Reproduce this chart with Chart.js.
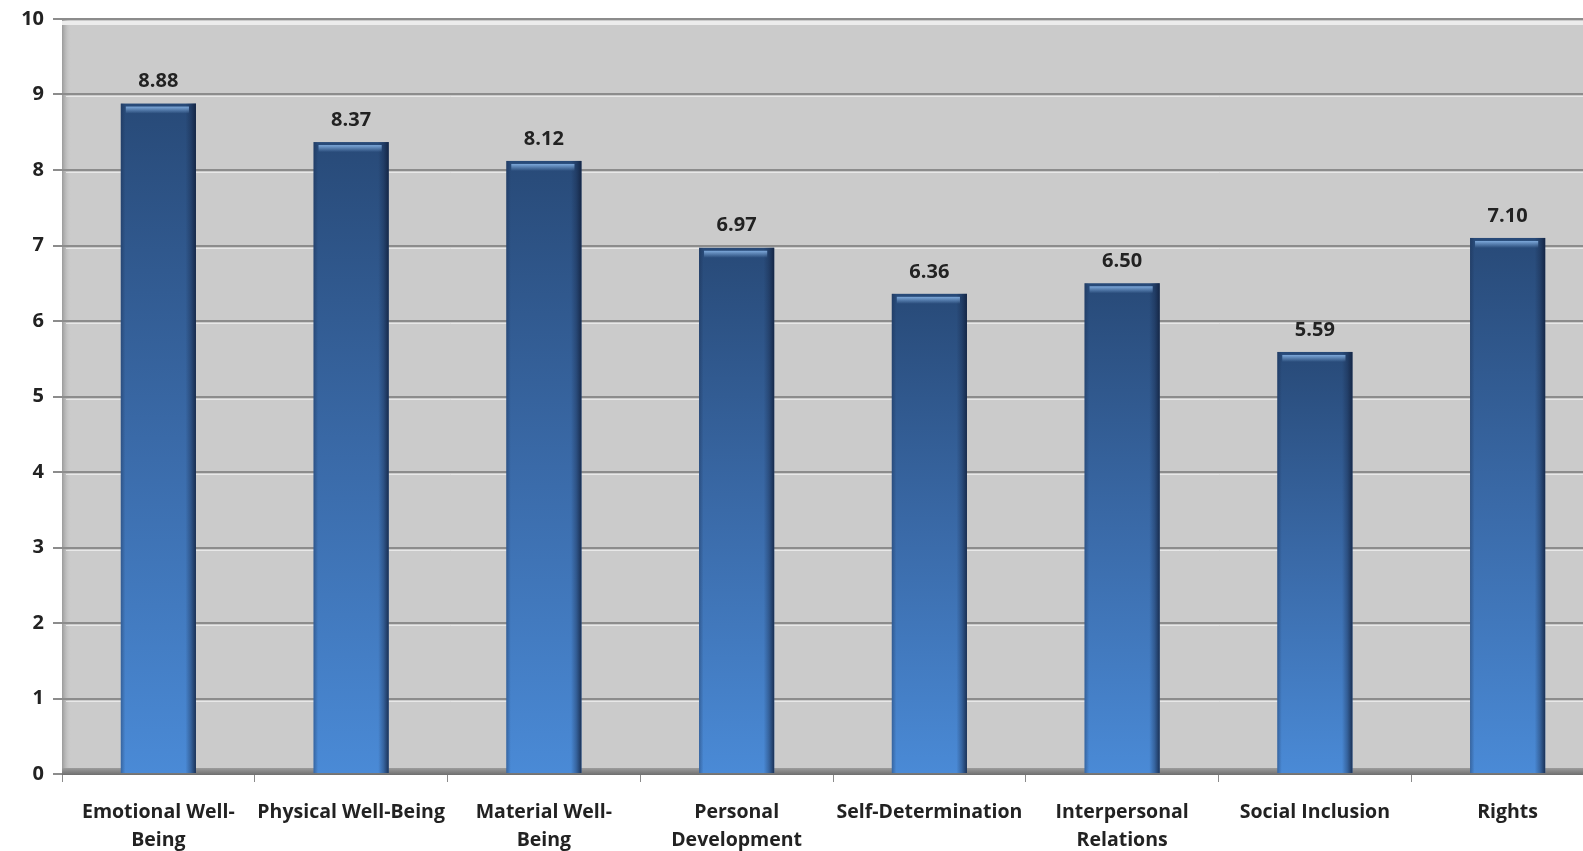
<!DOCTYPE html>
<html>
<head>
<meta charset="utf-8">
<script src="https://cdn.jsdelivr.net/npm/chart.js@4.4.1/dist/chart.umd.min.js"></script>
<style>
  html, body { margin: 0; padding: 0; background: #fff; overflow: hidden; }
  #wrap { width: 1604px; height: 851px; }
</style>
</head>
<body>
<div id="wrap"><canvas id="qolChart" width="1604" height="851"></canvas></div>
<script>
// domains of the quality of life scale
const domains = [
    ['Emotional Well-', 'Being'],
    'Physical Well-Being',
    ['Material Well-', 'Being'],
    ['Personal', 'Development'],
    'Self-Determination',
    ['Interpersonal', 'Relations'],
    'Social Inclusion',
    'Rights'
];
const scores = [8.88, 8.37, 8.12, 6.97, 6.36, 6.50, 5.59, 7.10];
const yTicks = [0, 1, 2, 3, 4, 5, 6, 7, 8, 9, 10];

const FONT = '"Open Sans", Lato, sans-serif';
const TEXT = '#222';

// gray plot background with a little 3d wall on the left and a floor
const plotBackground = {
    id: 'plotBackground',
    beforeDraw(chart) {
        const { ctx, chartArea: a } = chart;
        ctx.save();
        ctx.fillStyle = '#cbcbcb';
        ctx.fillRect(a.left, a.top, a.right - a.left, a.bottom - a.top);

        // left wall
        const wall = ctx.createLinearGradient(a.left, 0, a.left + 9, 0);
        wall.addColorStop(0, '#9a9a9a');
        wall.addColorStop(1, 'rgba(203,203,203,0)');
        ctx.fillStyle = wall;
        ctx.fillRect(a.left, a.top, 9, a.bottom - a.top);

        // top rim
        ctx.fillStyle = '#ececec';
        ctx.fillRect(a.left, a.top + 2, a.right - a.left, 4);
        ctx.restore();
    },
    beforeDatasetsDraw(chart) {
        const { ctx, chartArea: a, scales } = chart;
        ctx.save();
        // light line under every grid line
        ctx.strokeStyle = 'rgba(235,235,235,0.9)';
        ctx.lineWidth = 1;
        yTicks.forEach(v => {
            if (v === 0 || v === 10) return;
            const y = Math.round(scales.y.getPixelForValue(v)) + 2.5;
            ctx.beginPath();
            ctx.moveTo(a.left + 4, y);
            ctx.lineTo(a.right, y);
            ctx.stroke();
        });
        // floor
        const fl = ctx.createLinearGradient(0, a.bottom - 6, 0, a.bottom + 1);
        fl.addColorStop(0, '#9c9c9c');
        fl.addColorStop(1, '#6e6e6e');
        ctx.fillStyle = fl;
        ctx.fillRect(a.left, a.bottom - 6, a.right - a.left, 7);
        ctx.restore();
    }
};

// shaded bars, dark on top and lighter at the bottom, with edges
const barShading = {
    id: 'barShading',
    afterDatasetsDraw(chart) {
        const { ctx } = chart;
        const meta = chart.getDatasetMeta(0);
        ctx.save();
        meta.data.forEach((bar, i) => {
            const x0 = bar.x - bar.width / 2;
            const w = bar.width;
            const top = bar.y;
            const h = bar.base - bar.y;

            const g = ctx.createLinearGradient(0, top, 0, bar.base);
            g.addColorStop(0, '#284a78');
            g.addColorStop(0.5, '#3a6aa8');
            g.addColorStop(1, '#4a8ad6');
            ctx.fillStyle = g;
            ctx.fillRect(x0, top, w, h);

            // side shading
            const s = ctx.createLinearGradient(x0, 0, x0 + w, 0);
            s.addColorStop(0, 'rgba(20,35,65,0.35)');
            s.addColorStop(0.06, 'rgba(20,35,65,0)');
            s.addColorStop(0.86, 'rgba(20,35,65,0)');
            s.addColorStop(0.93, 'rgba(20,35,65,0.35)');
            s.addColorStop(1, 'rgba(15,28,55,0.8)');
            ctx.fillStyle = s;
            ctx.fillRect(x0, top, w, h);

            // highlight band near the top
            const hl = ctx.createLinearGradient(0, top + 3, 0, top + 10);
            hl.addColorStop(0, 'rgba(140,185,235,0.85)');
            hl.addColorStop(1, 'rgba(140,185,235,0)');
            ctx.fillStyle = hl;
            ctx.fillRect(x0 + 5, top + 3, w - 12, 8);

            // value label
            ctx.fillStyle = TEXT;
            ctx.font = 'bold 20px ' + FONT;
            ctx.textAlign = 'center';
            ctx.textBaseline = 'middle';
            ctx.fillText(scores[i].toFixed(2), bar.x, top - 22);
        });
        ctx.restore();
    }
};

const ctx = document.getElementById('qolChart').getContext('2d');
new Chart(ctx, {
    type: 'bar',
    data: {
        labels: domains,
        datasets: [{
            label: 'Score',
            data: scores,
            backgroundColor: 'rgba(0,0,0,0)',
            borderWidth: 0,
            barPercentage: 0.39,
            categoryPercentage: 1
        }]
    },
    options: {
        responsive: false,
        animation: false,
        devicePixelRatio: 1,
        layout: { padding: { top: 12, right: 0, left: 0, bottom: 0 } },
        plugins: {
            legend: { display: false },
            tooltip: { enabled: false }
        },
        scales: {
            x: {
                offset: true,
                grid: {
                    offset: true,
                    drawOnChartArea: false,
                    color: '#8a8a8a',
                    tickLength: 8
                },
                border: { display: false },
                ticks: {
                    color: TEXT,
                    padding: 17,
                    maxRotation: 0,
                    autoSkip: false,
                    font: { family: FONT, size: 19.5, weight: 'bold', lineHeight: 1.4 }
                },
                afterFit(scale) { scale.height = 77; }
            },
            y: {
                min: 0,
                max: 10,
                afterBuildTicks(scale) { scale.ticks = yTicks.map(v => ({ value: v })); },
                grid: {
                    color: '#8c8c8c',
                    lineWidth: 2,
                    tickLength: 9
                },
                border: { display: false },
                ticks: {
                    color: TEXT,
                    padding: 9,
                    font: { family: FONT, size: 20, weight: 'bold', lineHeight: 1 }
                },
                afterFit(scale) { scale.width = 62; }
            }
        }
    },
    plugins: [plotBackground, barShading]
});
</script>
</body>
</html>
